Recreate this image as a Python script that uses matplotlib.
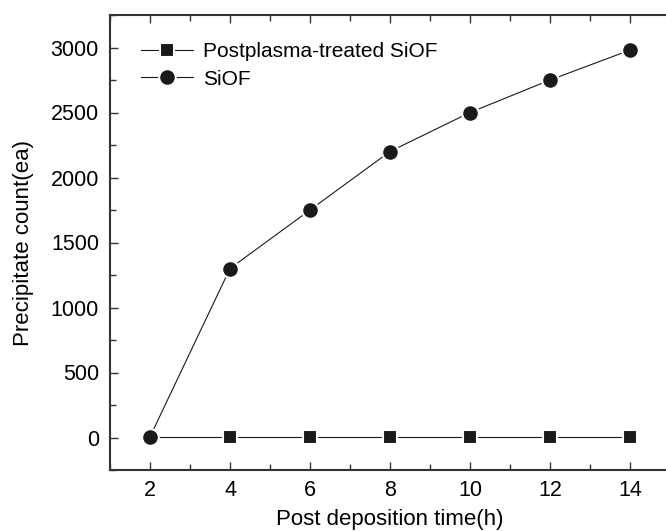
import numpy as np
import matplotlib.pyplot as plt
from matplotlib.ticker import MultipleLocator

plt.rcParams['font.family'] = ['Liberation Sans', 'DejaVu Sans']

hours = [2, 4, 6, 8, 10, 12, 14]
treated = [5, 5, 5, 5, 5, 5, 5]
siof = [5, 1300, 1750, 2200, 2500, 2750, 2980]

fig = plt.figure(figsize=(6.66, 5.31), dpi=100)
# axes run past the right edge, as in the source
ax = fig.add_axes([110 / 666, 61 / 531, 560 / 666, 455 / 531])

ax.plot(hours, treated, color='#1a1a1a', lw=0.8, marker='s', ms=10,
        mfc='#1a1a1a', mec='white', mew=1.5, label='Postplasma-treated SiOF')
ax.plot(hours, siof, color='#1a1a1a', lw=0.8, marker='o', ms=12,
        mfc='#1a1a1a', mec='white', mew=1.5, label='SiOF')

ax.set_xlim(1, 15)
ax.set_ylim(-250, 3250)
ax.xaxis.set_major_locator(MultipleLocator(2))
ax.xaxis.set_minor_locator(MultipleLocator(1))
ax.yaxis.set_major_locator(MultipleLocator(500))
ax.yaxis.set_minor_locator(MultipleLocator(250))
ax.tick_params(which='both', direction='in', top=True, right=False,
               labelsize=15.5, color='#333333')
ax.tick_params(which='major', length=6, width=1)
ax.tick_params(which='minor', length=4, width=1)
ax.tick_params(axis='x', pad=7)
ax.tick_params(axis='y', pad=8)
for s in ['left', 'bottom', 'top']:
    ax.spines[s].set_linewidth(1.5)
    ax.spines[s].set_color('#333333')
ax.spines['right'].set_visible(False)

ax.set_xlabel('Post deposition time(h)', fontsize=16, labelpad=6)
ax.set_ylabel('Precipitate count(ea)', fontsize=16, labelpad=12)

ax.legend(loc='upper left', bbox_to_anchor=(0.04, 0.958), frameon=False,
          fontsize=15, handlelength=2.5, handletextpad=0.5, labelspacing=0.4,
          borderaxespad=0)

fig.savefig('out.png', dpi=100)
